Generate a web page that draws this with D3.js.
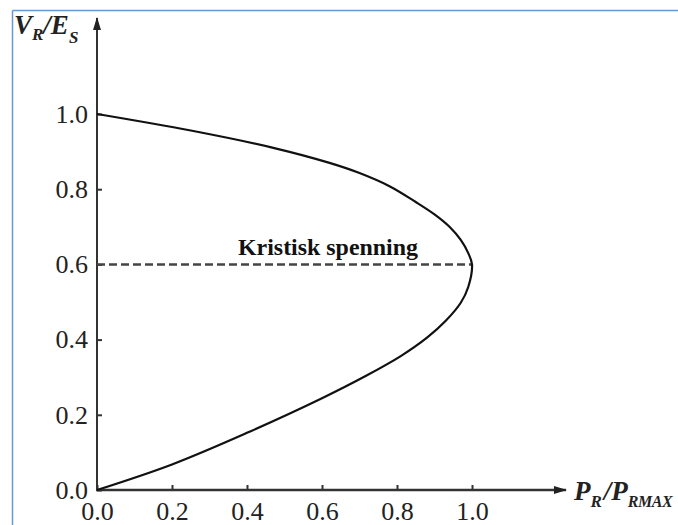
<!DOCTYPE html>
<html>
<head>
<meta charset="utf-8">
<script src="https://cdn.jsdelivr.net/npm/d3@7"></script>
<style>
  body { margin: 0; background: #fff; }
  svg { display: block; }
  .axis text { font-family: "Liberation Serif", "Times New Roman", serif; font-size: 26px; fill: #222; }
  .axis line { stroke: #333; stroke-width: 2; }
</style>
</head>
<body>
<div id="chart"></div>
<script>
// P-V curve: upper branch -> nose -> lower branch
var powerRatio = [0, 0.25, 0.47, 0.62, 0.70, 0.78, 0.85, 0.90, 0.94, 0.97, 0.99, 1.0,
                  0.99, 0.97, 0.93, 0.88, 0.81, 0.72, 0.60, 0.40, 0.20, 0];
var voltageRatio = [1.0, 0.956, 0.910, 0.870, 0.843, 0.808, 0.766, 0.733, 0.700, 0.665, 0.630, 0.600,
                    0.540, 0.498, 0.450, 0.405, 0.356, 0.305, 0.244, 0.152, 0.068, 0];
var xTicks = [0, 0.2, 0.4, 0.6, 0.8, 1.0];
var yTicks = [0, 0.2, 0.4, 0.6, 0.8, 1.0];
var criticalVoltage = 0.6;
var criticalLabel = "Kristisk spenning";

var width = 678;
var height = 525;

var xScale = d3.scaleLinear().domain([0, 1]).range([97, 472]);
var yScale = d3.scaleLinear().domain([0, 1]).range([490, 114]);

var svg = d3.select("#chart").append("svg")
	.attr("width", width)
	.attr("height", height);

// arrow heads
svg.append("defs").append("marker")
	.attr("id", "arrow")
	.attr("viewBox", "0 0 13 8")
	.attr("refX", 12)
	.attr("refY", 4)
	.attr("markerWidth", 13)
	.attr("markerHeight", 8)
	.attr("markerUnits", "userSpaceOnUse")
	.attr("orient", "auto")
	.append("path")
	.attr("d", "M0,0 L13,4 L0,8 Z")
	.style("fill", "#222");

// blue frame (top + left only)
svg.append("line")
	.attr("x1", 12.5).attr("x2", width)
	.attr("y1", 10.5).attr("y2", 10.5)
	.style("stroke", "#6a98d4").style("stroke-width", 1.5);
svg.append("line")
	.attr("x1", 12.5).attr("x2", 12.5)
	.attr("y1", 10.5).attr("y2", height)
	.style("stroke", "#6a98d4").style("stroke-width", 1.5);

// axes
var yAxis = d3.axisLeft(yScale)
	.tickValues(yTicks)
	.tickFormat(d3.format(".1f"))
	.tickSizeInner(-5)
	.tickSizeOuter(0)
	.tickPadding(9);

var xAxis = d3.axisBottom(xScale)
	.tickValues(xTicks)
	.tickFormat(d3.format(".1f"))
	.tickSizeInner(-5)
	.tickSizeOuter(0)
	.tickPadding(12);

var gy = svg.append("g")
	.attr("class", "axis y")
	.attr("transform", "translate(" + xScale(0) + ",0)")
	.call(yAxis);
gy.select(".domain").remove();

var gx = svg.append("g")
	.attr("class", "axis x")
	.attr("transform", "translate(0," + yScale(0) + ")")
	.call(xAxis);
gx.select(".domain").remove();

svg.append("line")
	.attr("x1", xScale(0)).attr("x2", xScale(0))
	.attr("y1", yScale(0) + 1).attr("y2", 18)
	.style("stroke", "#333").style("stroke-width", 2)
	.attr("marker-end", "url(#arrow)");

svg.append("line")
	.attr("x1", xScale(0) - 1).attr("x2", 566)
	.attr("y1", yScale(0)).attr("y2", yScale(0))
	.style("stroke", "#333").style("stroke-width", 2.5)
	.attr("marker-end", "url(#arrow)");

// axis titles
var yTitle = svg.append("text")
	.attr("x", 14)
	.attr("y", 34)
	.style("font-family", "Liberation Serif, serif")
	.style("font-style", "italic")
	.style("font-weight", "bold")
	.style("font-size", "27px")
	.style("fill", "#222");
yTitle.append("tspan").text("V");
yTitle.append("tspan").attr("dy", 6).style("font-size", "17px").text("R");
yTitle.append("tspan").attr("dy", -6).text("/E");
yTitle.append("tspan").attr("dy", 9).style("font-size", "17px").text("S");

var xTitle = svg.append("text")
	.attr("x", 574)
	.attr("y", 500)
	.style("font-family", "Liberation Serif, serif")
	.style("font-style", "italic")
	.style("font-weight", "bold")
	.style("font-size", "27px")
	.style("fill", "#222");
xTitle.append("tspan").text("P");
xTitle.append("tspan").attr("dy", 7).style("font-size", "17px").text("R");
xTitle.append("tspan").attr("dy", -7).attr("dx", 2).text("/P");
xTitle.append("tspan").attr("dy", 7).style("font-size", "16px").style("letter-spacing", "-0.5px").text("RMAX");

// critical voltage line
svg.append("line")
	.attr("x1", xScale(0)).attr("x2", xScale(1))
	.attr("y1", yScale(criticalVoltage)).attr("y2", yScale(criticalVoltage))
	.style("stroke", "#444")
	.style("stroke-width", 2.5)
	.style("stroke-dasharray", "8,4");

svg.append("text")
	.attr("x", 238)
	.attr("y", 255)
	.attr("textLength", 180)
	.attr("lengthAdjust", "spacingAndGlyphs")
	.style("font-family", "Liberation Serif, serif")
	.style("font-weight", "bold")
	.style("font-size", "23px")
	.style("fill", "#111")
	.text(criticalLabel);

// the nose curve
var points = powerRatio.map(function (p, i) { return [p, voltageRatio[i]]; });

var line = d3.line()
	.x(function (d) { return xScale(d[0]); })
	.y(function (d) { return yScale(d[1]); })
	.curve(d3.curveCatmullRom.alpha(0.5));

svg.append("path")
	.datum(points)
	.attr("d", line)
	.style("fill", "none")
	.style("stroke", "#111")
	.style("stroke-width", 2.2);
</script>
</body>
</html>
